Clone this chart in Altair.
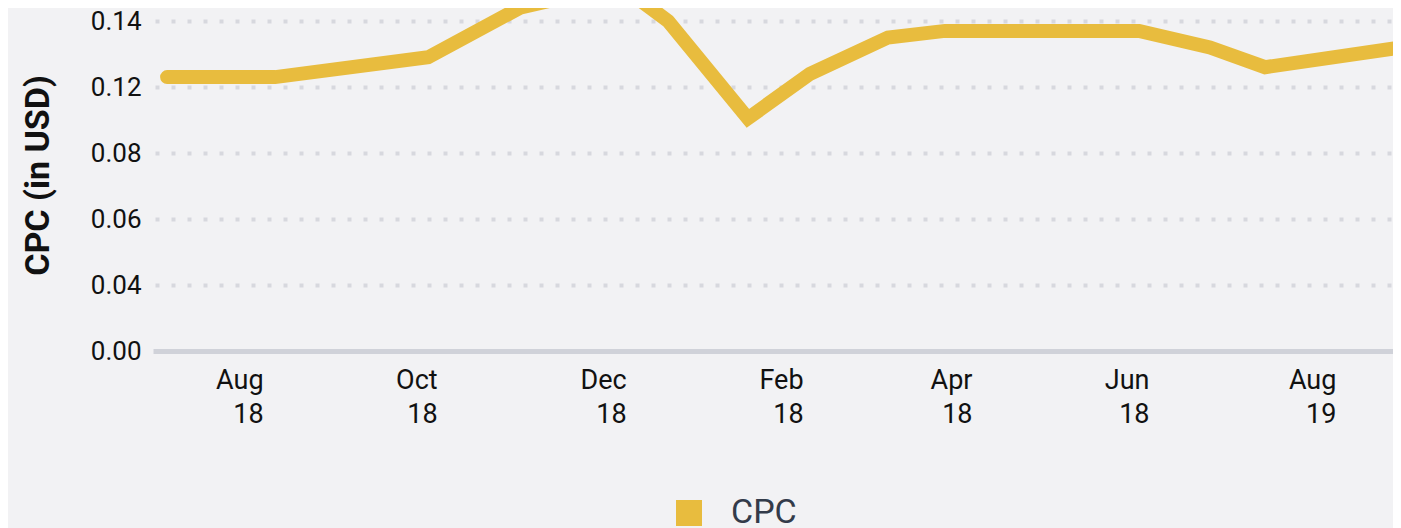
import json
import altair as alt
import pandas as pd

# ---- data ----
day = [4.7, 40.7, 91.7, 122.3, 155.3, 171.7, 198.3, 219, 245, 264, 308, 328.7, 352.3, 370.7, 416]
cpc = [0.123, 0.123, 0.129, 0.144, 0.151, 0.140, 0.101, 0.124, 0.135, 0.137, 0.137, 0.137, 0.132, 0.126, 0.132]
series_name = "CPC"

x_tick_values = [36.7, 94.7, 157.7, 216.7, 273, 332, 394.3]
x_tick_months = ["Aug", "Oct", "Dec", "Feb", "Apr", "Jun", "Aug"]
x_tick_years = ["18", "18", "18", "18", "18", "18", "19"]

y_tick_values = [0.0, 0.04, 0.06, 0.08, 0.12, 0.14]

df = pd.DataFrame({"day": day, "cpc": cpc, "series": [series_name] * len(day)})

# ---- layout ----
PX_PER_DAY = 3
PLOT_W = 1240
PLOT_H = 343
GRID_STEP = 66
y_range = [PLOT_H - GRID_STEP * i for i in range(len(y_tick_values))]

idx = f"indexof({json.dumps(x_tick_values)}, datum.value)"
x_label_expr = f"[{json.dumps(x_tick_months)}[{idx}], {json.dumps(x_tick_years)}[{idx}]]"

LINE_COLOR = "#E8BC3E"

chart = alt.Chart(df).mark_line(
    strokeWidth=14, strokeCap="round", strokeJoin="miter", clip=False
).encode(
    x=alt.X(
        "day:Q",
        scale=alt.Scale(domain=[0, PLOT_W / PX_PER_DAY], nice=False, zero=False),
        axis=alt.Axis(
            title=None,
            values=x_tick_values,
            labelExpr=x_label_expr,
            labelAlign="right",
            labelFont="Roboto",
            labelFontSize=27,
            labelLineHeight=34,
            labelColor="#111111",
            labelPadding=16,
            ticks=False,
            grid=False,
            domain=True,
            domainColor="#D0D2D9",
            domainWidth=5,
            labelOverlap=False,
        ),
    ),
    y=alt.Y(
        "cpc:Q",
        scale=alt.Scale(domain=y_tick_values, range=y_range, nice=False, zero=False),
        axis=alt.Axis(
            title="CPC (in USD)",
            values=y_tick_values,
            format=".2f",
            labelFont="Roboto",
            labelFontSize=26,
            labelColor="#111111",
            labelPadding=12,
            ticks=False,
            domain=False,
            grid=True,
            gridColor="#D7D8DE",
            gridWidth=4,
            gridDash=[4, 12],
            gridDashOffset=-2,
            titleFont="Roboto",
            titleFontSize=34,
            titleFontWeight="bold",
            titleColor="#111111",
            titleX=-105,
            titleY=167,
            titleAngle=270,
            titleAlign="center",
            titleBaseline="alphabetic",
            labelOverlap=False,
        ),
    ),
    color=alt.Color(
        "series:N",
        scale=alt.Scale(domain=[series_name], range=[LINE_COLOR]),
        legend=alt.Legend(
            title=None,
            orient="none",
            legendX=519,
            legendY=488,
            padding=0,
            symbolType="square",
            symbolSize=676,
            symbolFillColor=LINE_COLOR,
            symbolStrokeColor=LINE_COLOR,
            symbolStrokeWidth=0,
            labelFont="Roboto",
            labelFontSize=34,
            labelColor="#333B4A",
            labelOffset=25,
        ),
    ),
).properties(
    width=PLOT_W,
    height=PLOT_H,
    padding={"left": 145, "top": 0, "right": 0, "bottom": 177},
    autosize=alt.AutoSizeParams(type="none"),
).configure(
    background="#F2F2F4",
).configure_view(stroke=None)

chart.save("out.html", embed_options={"renderer": "svg", "actions": False})
